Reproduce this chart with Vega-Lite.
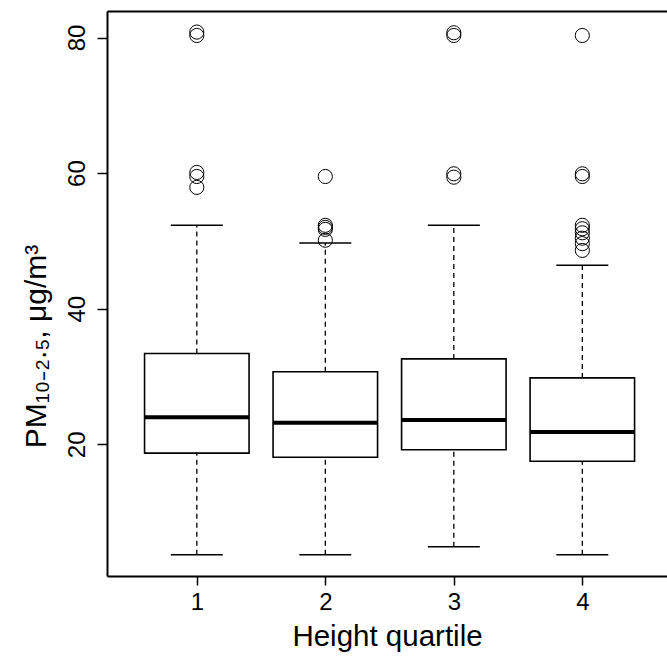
{
  "$schema": "https://vega.github.io/schema/vega-lite/v6.json",
  "width": 560,
  "height": 565,
  "autosize": {"type": "none"},
  "padding": {"left": 107, "top": 11, "right": 0, "bottom": 83},
  "background": "white",
  "config": {
    "view": {"stroke": null},
    "font": "Liberation Sans",
    "axis": {"grid": false, "domainColor": "black", "tickColor": "black", "labelColor": "black", "titleColor": "black", "titleFontWeight": "normal", "labelFont": "Liberation Sans", "titleFont": "Liberation Sans"}
  },
  "datasets": {
    "boxes": [
      {"quartile": 1, "lower": 3.7, "q1": 18.7, "median": 24.0, "q3": 33.4, "upper": 52.3},
      {"quartile": 2, "lower": 3.7, "q1": 18.1, "median": 23.2, "q3": 30.7, "upper": 49.7},
      {"quartile": 3, "lower": 4.9, "q1": 19.2, "median": 23.6, "q3": 32.6, "upper": 52.3},
      {"quartile": 4, "lower": 3.7, "q1": 17.5, "median": 21.8, "q3": 29.8, "upper": 46.4}
    ],
    "outliers": [
      {"quartile": 1, "pm": 80.8}, {"quartile": 1, "pm": 80.3}, {"quartile": 1, "pm": 60.1}, {"quartile": 1, "pm": 59.5}, {"quartile": 1, "pm": 57.9},
      {"quartile": 2, "pm": 59.5}, {"quartile": 2, "pm": 52.3}, {"quartile": 2, "pm": 52.0}, {"quartile": 2, "pm": 51.7}, {"quartile": 2, "pm": 50.1},
      {"quartile": 3, "pm": 80.7}, {"quartile": 3, "pm": 80.3}, {"quartile": 3, "pm": 59.9}, {"quartile": 3, "pm": 59.4},
      {"quartile": 4, "pm": 80.3}, {"quartile": 4, "pm": 59.9}, {"quartile": 4, "pm": 59.5}, {"quartile": 4, "pm": 52.3}, {"quartile": 4, "pm": 51.8}, {"quartile": 4, "pm": 51.2}, {"quartile": 4, "pm": 50.4}, {"quartile": 4, "pm": 49.6}, {"quartile": 4, "pm": 48.6}
    ]
  },
  "resolve": {"axis": {"x": "independent"}},
  "layer": [
    {
      "data": {"name": "boxes"},
      "mark": {"type": "rule", "strokeDash": [5, 4], "strokeWidth": 1.3, "color": "black"},
      "encoding": {
        "x": {"field": "quartile", "type": "quantitative", "scale": {"domain": [0.34, 4.62], "nice": false, "zero": false},
          "axis": {"orient": "bottom", "values": [1, 2, 3, 4], "title": "Height quartile", "domainWidth": 2, "tickWidth": 1.5, "tickSize": 9, "labelFontSize": 24, "labelPadding": 5, "titleFontSize": 29.5, "titlePadding": 8, "format": "d"}},
        "y": {"field": "q3", "type": "quantitative", "scale": {"domain": [0.58, 83.91], "nice": false, "zero": false},
          "axis": {"values": [20, 40, 60, 80], "title": "PM₁₀₋₂.₅, μg/m³", "domainWidth": 2, "tickWidth": 1.5, "tickSize": 10, "labelFontSize": 24, "labelAngle": -90, "labelAlign": "center", "labelBaseline": "alphabetic", "labelPadding": 13, "titleFontSize": 30, "titlePadding": 14, "titleY": 335}},
        "y2": {"field": "upper"}
      }
    },
    {
      "data": {"name": "boxes"},
      "mark": {"type": "rule", "strokeDash": [5, 4], "strokeWidth": 1.3, "color": "black"},
      "encoding": {
        "x": {"field": "quartile", "type": "quantitative", "axis": {"orient": "top", "labels": false, "ticks": false, "title": null, "domainWidth": 2}},
        "y": {"field": "lower", "type": "quantitative"},
        "y2": {"field": "q1"}
      }
    },
    {
      "data": {"name": "boxes"},
      "mark": {"type": "tick", "orient": "horizontal", "size": 52, "thickness": 1.5, "color": "black", "opacity": 1},
      "encoding": {
        "x": {"field": "quartile", "type": "quantitative", "axis": null},
        "y": {"field": "upper", "type": "quantitative"}
      }
    },
    {
      "data": {"name": "boxes"},
      "mark": {"type": "tick", "orient": "horizontal", "size": 52, "thickness": 1.5, "color": "black", "opacity": 1},
      "encoding": {
        "x": {"field": "quartile", "type": "quantitative", "axis": null},
        "y": {"field": "lower", "type": "quantitative"}
      }
    },
    {
      "data": {"name": "boxes"},
      "mark": {"type": "bar", "width": 104.5, "fill": "white", "stroke": "black", "strokeWidth": 1.6},
      "encoding": {
        "x": {"field": "quartile", "type": "quantitative", "axis": null},
        "y": {"field": "q1", "type": "quantitative"},
        "y2": {"field": "q3"}
      }
    },
    {
      "data": {"name": "boxes"},
      "mark": {"type": "tick", "orient": "horizontal", "size": 104.5, "thickness": 4, "color": "black", "opacity": 1},
      "encoding": {
        "x": {"field": "quartile", "type": "quantitative", "axis": null},
        "y": {"field": "median", "type": "quantitative"}
      }
    },
    {
      "data": {"name": "outliers"},
      "mark": {"type": "point", "shape": "circle", "filled": false, "size": 200, "stroke": "black", "strokeWidth": 1, "opacity": 1},
      "encoding": {
        "x": {"field": "quartile", "type": "quantitative", "axis": null},
        "y": {"field": "pm", "type": "quantitative"}
      }
    }
  ]
}
